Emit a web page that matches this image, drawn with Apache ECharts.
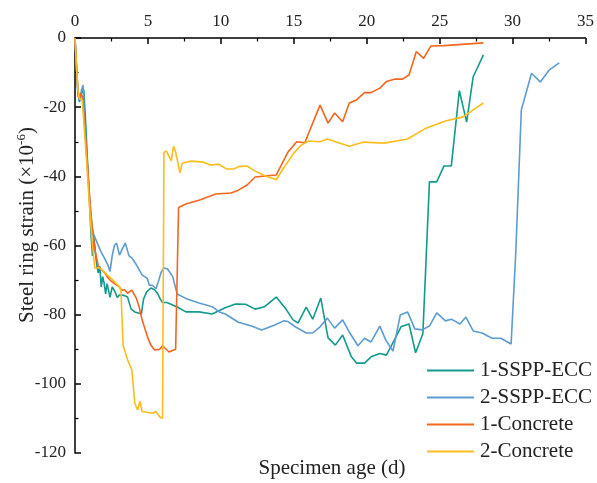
<!DOCTYPE html>
<html>
<head>
<meta charset="utf-8">
<script src="https://cdn.jsdelivr.net/npm/echarts@6/dist/echarts.min.js"></script>
<style>
  html, body { margin: 0; padding: 0; background: #fff; }
  #chart { width: 597px; height: 483px; }
</style>
</head>
<body>
<div id="chart"></div>
<script>
// Steel ring strain (x10^-6) against specimen age (days), one [day, strain] pair per reading.
const ecc1 = [
  [0,0],[0.1,-9],[0.2,-16],[0.3,-18.5],[0.45,-16],[0.6,-15],[0.7,-22],[0.85,-35],[1.0,-48],[1.1,-57],
  [1.2,-63],[1.3,-58],[1.4,-62],[1.5,-66],[1.6,-68],[1.7,-66],[1.8,-72],[1.9,-69],[2.0,-71],[2.1,-74],
  [2.2,-71],[2.4,-75],[2.55,-72],[2.7,-73],[2.9,-75],[3.05,-74.3],[3.2,-74.3],[3.4,-74.5],[3.6,-74.9],
  [3.85,-78.4],[4.1,-79.2],[4.4,-79.6],[4.55,-79.8],[4.7,-75.5],[4.9,-73.5],[5.2,-72.3],[5.45,-72.8],
  [5.65,-73.8],[5.85,-75.5],[6.0,-76.5],[6.3,-76.5],[6.7,-77.2],[7.1,-78],[7.6,-79.2],[8.5,-79.2],
  [9.4,-79.8],[9.9,-78.8],[10.3,-78],[11.0,-76.9],[11.7,-77],[12.35,-78.4],[13.0,-77.7],[13.8,-74.9],
  [14.5,-78.6],[14.95,-81.5],[15.3,-82.4],[15.85,-77.8],[16.3,-81.3],[16.85,-75.2],[17.35,-86.7],
  [17.85,-88.8],[18.35,-85.9],[18.95,-92.2],[19.3,-94],[19.85,-94],[20.3,-92.2],[20.9,-91.2],
  [21.35,-91.7],[21.9,-87.3],[22.35,-83.5],[22.9,-82.7],[23.35,-91],[23.85,-85.5],[24.3,-41.6],
  [24.8,-41.6],[25.3,-37],[25.8,-37],[26.35,-15.2],[26.85,-24.3],[27.3,-11.2],[28.0,-4.9]
];
const ecc2 = [
  [0,0],[0.1,-8],[0.2,-16],[0.3,-18],[0.45,-15],[0.55,-13.6],[0.68,-27],[0.9,-40],[1.1,-52],[1.25,-56.5],
  [1.4,-58],[1.5,-57.5],[1.65,-60.5],[1.8,-62],[2.0,-63.5],[2.25,-65.6],[2.4,-67.5],[2.55,-63],[2.7,-60],
  [2.85,-59.3],[3.05,-62.8],[3.25,-61],[3.45,-59.3],[3.7,-63],[3.9,-63.6],[4.2,-65.5],[4.6,-68.5],
  [4.95,-69.5],[5.1,-71.5],[5.3,-71.5],[5.55,-72.5],[5.75,-70],[5.9,-67.8],[6.1,-66.5],[6.35,-66.8],
  [6.7,-69],[7.0,-74],[7.6,-75.3],[8.5,-76.6],[9.4,-77.7],[9.9,-79.2],[10.3,-79.8],[11.2,-82.2],
  [12.1,-83.3],[12.8,-84.4],[13.7,-83],[14.3,-81.8],[14.6,-82],[15.1,-83.5],[15.85,-85.3],[16.3,-85.3],
  [16.8,-83.5],[17.3,-81],[17.8,-83.9],[18.35,-81.5],[18.8,-85],[19.4,-89],[19.85,-86.8],[20.3,-87.9],
  [20.9,-83.3],[21.3,-87.3],[21.8,-90.5],[22.3,-80.1],[22.8,-79.2],[23.3,-84.1],[23.8,-84.4],
  [24.3,-83.3],[24.8,-79.5],[25.4,-81.8],[25.8,-81.3],[26.4,-82.7],[26.8,-80.7],[27.3,-84.7],
  [27.9,-85.3],[28.6,-86.8],[29.2,-86.8],[29.9,-88.5],[30.22,-62],[30.6,-20.8],[31.3,-10.2],
  [31.9,-12.7],[32.5,-9.3],[33.2,-7.2]
];
const concrete1 = [
  [0,0],[0.1,-8],[0.2,-15],[0.3,-17.5],[0.4,-16],[0.5,-17],[0.6,-22],[0.8,-33],[1.0,-46],[1.2,-56],
  [1.4,-62],[1.6,-66],[1.8,-67],[2.0,-67.7],[2.2,-69],[2.4,-70],[2.7,-71],[3.0,-71.8],[3.2,-72.9],
  [3.4,-72.8],[3.6,-73.8],[3.9,-72.9],[4.2,-75.2],[4.4,-77.8],[4.6,-81.5],[5.0,-86.8],[5.2,-88.8],
  [5.45,-90.2],[5.8,-90],[6.0,-89],[6.45,-90.8],[6.9,-90],[7.0,-90.2],[7.1,-49],[7.6,-48],[8.6,-46.8],
  [9.65,-45.1],[10.7,-44.8],[11.2,-44],[11.8,-42.5],[12.35,-40.2],[13.05,-39.9],[13.8,-39.6],
  [14.6,-33],[15.2,-30],[15.75,-30.3],[16.8,-19.4],[17.35,-24.6],[17.8,-21.7],[18.35,-24.2],
  [18.8,-18.8],[19.3,-17.9],[19.85,-15.8],[20.3,-15.8],[20.9,-14.5],[21.35,-12.6],[21.9,-11.9],
  [22.45,-11.9],[22.9,-10.7],[23.4,-3.9],[23.9,-5.9],[24.4,-2.3],[25.3,-2.2],[28.0,-1.4]
];
const concrete2 = [
  [0,0],[0.1,-8],[0.2,-15],[0.3,-17.5],[0.4,-17],[0.5,-18],[0.6,-24],[0.8,-36],[1.0,-49],[1.2,-60],
  [1.36,-66.5],[1.7,-66.5],[2.0,-67.7],[2.6,-70],[3.06,-72],[3.15,-73],[3.3,-89],[3.6,-93],[3.9,-96],
  [4.1,-105.6],[4.3,-107.6],[4.45,-105],[4.6,-108],[5.0,-108.3],[5.3,-108.5],[5.55,-108],[5.8,-109.5],
  [6.0,-110],[6.1,-33],[6.27,-32.7],[6.6,-35.5],[6.75,-31.3],[6.9,-33],[7.2,-39],[7.35,-36.2],
  [7.95,-35.6],[8.8,-35.9],[9.3,-36.7],[9.85,-36.5],[10.4,-37.9],[10.9,-37.9],[11.2,-37.2],[11.8,-37],
  [12.35,-38.5],[13.1,-40],[13.8,-41],[14.3,-37.6],[15.0,-33.3],[15.5,-31],[16.0,-29.8],[16.8,-30],
  [17.3,-29.2],[18.8,-31.3],[19.8,-30.1],[21.2,-30.4],[22.8,-29.2],[24.1,-26],[25.4,-24],[26.6,-22.8],
  [28.0,-18.8]
];

const seriesNames = ['1-SSPP-ECC', '2-SSPP-ECC', '1-Concrete', '2-Concrete'];
const seriesData = [ecc1, ecc2, concrete1, concrete2];
const seriesColors = ['#139a8e', '#5d9bd0', '#f4661f', '#fcbd1c'];

const serif = '"Liberation Serif", "Times New Roman", serif';

const chart = echarts.init(document.getElementById('chart'), null, { renderer: 'canvas' });

chart.setOption({
  animation: false,
  backgroundColor: '#ffffff',
  grid: { left: 75, top: 38, width: 515, height: 415, containLabel: false },
  xAxis: {
    type: 'value',
    position: 'top',
    min: 0, max: 35, interval: 5,
    axisLine: { show: true, onZero: false, lineStyle: { color: '#000', width: 1.5 } },
    axisTick: { show: true, inside: true, length: 6, lineStyle: { color: '#000', width: 1.5 } },
    minorTick: { show: true, splitNumber: 2, length: 3.5, lineStyle: { color: '#000', width: 1.2 } },
    axisLabel: { color: '#222', fontSize: 17, fontFamily: serif, margin: 8 },
    splitLine: { show: false },
    minorSplitLine: { show: false }
  },
  yAxis: {
    type: 'value',
    min: -120, max: 0, interval: 20,
    axisLine: { show: true, onZero: false, lineStyle: { color: '#000', width: 1.5 } },
    axisTick: { show: true, inside: true, length: 6, lineStyle: { color: '#000', width: 1.5 } },
    minorTick: { show: true, splitNumber: 2, length: 3.5, lineStyle: { color: '#000', width: 1.2 } },
    axisLabel: { color: '#222', fontSize: 17, fontFamily: serif, margin: 9 },
    splitLine: { show: false },
    minorSplitLine: { show: false }
  },
  legend: {
    orient: 'vertical',
    left: 427, top: 360,
    padding: 0,
    itemWidth: 47, itemHeight: 2, itemGap: 6,
    icon: 'rect',
    data: seriesNames,
    textStyle: { fontSize: 21, fontFamily: serif, color: '#222', lineHeight: 21, padding: [0, 0, 0, 1] }
  },
  graphic: [
    {
      type: 'text',
      x: 27, y: 225,
      rotation: Math.PI / 2,
      style: {
        text: '{n|Steel ring strain (×10}{s|-6}{n|)}',
        align: 'center', verticalAlign: 'middle',
        fill: '#222',
        rich: {
          n: { fontSize: 21, fontFamily: serif, fill: '#222', lineHeight: 24 },
          s: { fontSize: 13, fontFamily: serif, fill: '#222', verticalAlign: 'top', lineHeight: 14 }
        }
      }
    },
    {
      type: 'text',
      x: 332, y: 468,
      style: {
        text: 'Specimen age (d)',
        align: 'center', verticalAlign: 'middle',
        fill: '#222', fontSize: 21, fontFamily: serif
      }
    }
  ],
  series: seriesNames.map((name, i) => ({
    name,
    type: 'line',
    data: seriesData[i],
    showSymbol: false,
    symbol: 'none',
    smooth: false,
    lineStyle: { color: seriesColors[i], width: 1.6 },
    itemStyle: { color: seriesColors[i] },
    emphasis: { disabled: true }
  }))
});
</script>
</body>
</html>
